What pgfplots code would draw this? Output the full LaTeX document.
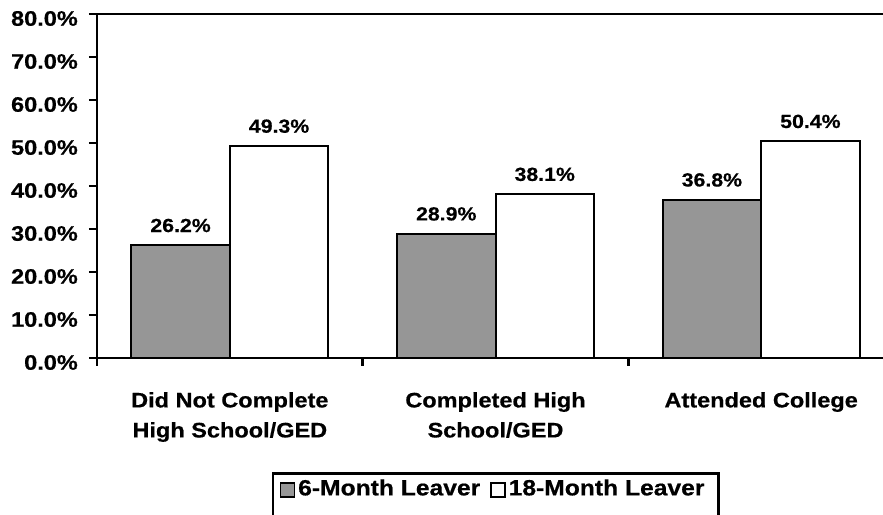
\documentclass[border=0pt]{standalone}
\usepackage{fontspec}
\setmainfont{Liberation Sans}[FakeStretch=1.12, BoldFeatures={FakeBold=0.6}]
\usepackage{pgfplots}
\pgfplotsset{compat=1.18}
\definecolor{barGray}{RGB}{150,150,150}

% square legend swatch with a black border
\pgfplotsset{sqlegend/.style={legend image code/.code={%
  \draw[##1, line width=1.4pt] (0pt,-1.5pt) rectangle (14pt,12.5pt);}}}

\pgfplotstableread{
x  val
0  26.2
1  28.9
2  36.8
}\sixmonth
\pgfplotstableread{
x  val
0  49.3
1  38.1
2  50.4
}\eighteenmonth

\begin{document}
\bfseries
\begin{tikzpicture}[x=1pt,y=1pt]
\path[use as bounding box] (0,0) rectangle (883,514);
\begin{axis}[
  at={(97pt,156pt)}, anchor=south west,
  scale only axis, width=797pt, height=344pt,
  xmin=-0.5, xmax=2.5, ymin=0, ymax=80,
  ybar=0pt, bar width=98.5pt,
  axis line style={line width=2.8pt},
  tick align=outside, major tick length=8pt, minor tick length=8pt,
  ytick={0,10,20,30,40,50,60,70,80},
  yticklabels={0.0\%,10.0\%,20.0\%,30.0\%,40.0\%,50.0\%,60.0\%,70.0\%,80.0\%},
  ytick pos=left, xtick pos=bottom,
  y tick style={line width=2.5pt, black},
  yticklabel style={font=\fontsize{21}{25}\selectfont, inner sep=0pt, anchor=east, xshift=-11pt, yshift=-4.5pt},
  xtick={0,1,2},
  xticklabels={{Did Not Complete\\High School/GED},{Completed High\\School/GED},{Attended College}},
  major x tick style={draw=none},
  minor xtick={-0.5,0.5,1.5,2.5},
  minor x tick style={line width=2.5pt, black},
  xticklabel style={font=\fontsize{21}{30}\selectfont, align=center, anchor=north, inner sep=0pt, yshift=-26pt},
  /pgf/number format/assume math mode=true,
  nodes near coords={\pgfmathprintnumber[fixed,fixed zerofill,precision=1]{\pgfplotspointmeta}\%},
  every node near coord/.append style={font=\fontsize{19}{23}\selectfont, anchor=base, inner sep=0pt, yshift=13.3pt},
  legend columns=-1,
  legend cell align=left,
  legend style={at={(0.2192,-0.3323)}, anchor=north west, draw=black, line width=2.2pt,
    inner xsep=7pt, inner ysep=6pt, font=\fontsize{22}{26}\selectfont,
    nodes={inner sep=0pt, text depth=16pt},
    /tikz/every odd column/.append style={column sep=3pt},
    /tikz/every even column/.append style={column sep=10pt}},
]
\addplot[fill=barGray, draw=black, line width=2pt, sqlegend]
  table[x=x, y=val] {\sixmonth};
\addplot[fill=white, draw=black, line width=2pt, sqlegend]
  table[x=x, y=val] {\eighteenmonth};
\legend{6-Month Leaver,18-Month Leaver\hspace*{7pt}}
\end{axis}
\end{tikzpicture}
\end{document}
